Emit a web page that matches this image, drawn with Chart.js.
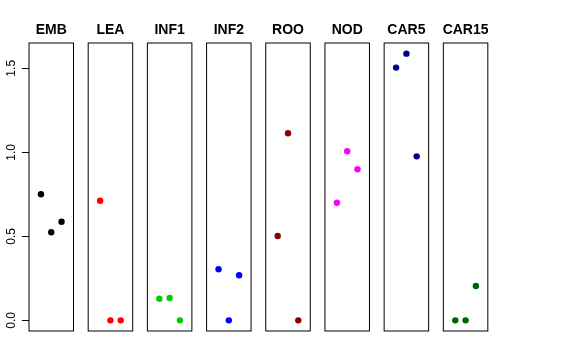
<!DOCTYPE html>
<html>
<head>
<meta charset="utf-8">
<script src="https://cdn.jsdelivr.net/npm/chart.js@4/dist/chart.umd.min.js"></script>
<style>
  body { margin: 0; background: #fff; }
  #wrap { position: relative; width: 576px; height: 360px; }
  #wrap canvas { position: absolute; left: 0; top: 0; }
</style>
</head>
<body>
<div id="wrap"></div>
<script>
// panel names and colours
const groups = ['EMB', 'LEA', 'INF1', 'INF2', 'ROO', 'NOD', 'CAR5', 'CAR15'];
const colors = ['#000000', '#FF0000', '#00CD00', '#0000FF', '#8B0000', '#FF00FF', '#00008B', '#006400'];

// three replicates per panel, plotted at x = 1, 2, 3
const replicate = [1, 2, 3];
const EMB   = [0.750, 0.524, 0.587];
const LEA   = [0.712, 0.000, 0.000];
const INF1  = [0.129, 0.133, 0.000];
const INF2  = [0.304, 0.000, 0.268];
const ROO   = [0.502, 1.113, 0.000];
const NOD   = [0.700, 1.006, 0.899];
const CAR5  = [1.504, 1.587, 0.976];
const CAR15 = [0.000, 0.000, 0.204];
const values = [EMB, LEA, INF1, INF2, ROO, NOD, CAR5, CAR15];

const yTicks = [0, 0.5, 1.0, 1.5];
const yMin = -0.0635, yMax = 1.6505;
const xMin = -0.16, xMax = 4.16;

const W = 576, H = 360;
const panelLeft = 29, panelStep = 59.19, panelWidth = 44.5;
const panelTop = 43, panelBottom = 331;

// box round the plot area, panel title and rotated y labels (R style)
const panelBox = {
    id: 'panelBox',
    afterDatasetsDraw(chart, args, opts) {
        const {ctx, chartArea: a} = chart;
        ctx.save();
        ctx.strokeStyle = '#000';
        ctx.lineWidth = 1;
        ctx.strokeRect(a.left, a.top, a.right - a.left, a.bottom - a.top);

        ctx.fillStyle = '#000';
        ctx.font = 'bold 14px "Liberation Sans", Arial, sans-serif';
        ctx.textAlign = 'center';
        ctx.textBaseline = 'alphabetic';
        ctx.fillText(opts.title, (a.left + a.right) / 2, 34);
        ctx.restore();

        if (opts.yLabels) {
            const y = chart.scales.y;
            ctx.save();
            ctx.fillStyle = '#000';
            ctx.font = '12px "Liberation Sans", Arial, sans-serif';
            ctx.textAlign = 'center';
            ctx.textBaseline = 'middle';
            y.ticks.forEach(t => {
                const py = y.getPixelForValue(t.value);
                ctx.save();
                ctx.translate(11.7, py);
                ctx.rotate(-Math.PI / 2);
                ctx.fillText(t.value.toFixed(1), 0, 0);
                ctx.restore();
            });
            ctx.restore();
        }
    }
};

const wrap = document.getElementById('wrap');

groups.forEach((name, i) => {
    const canvas = document.createElement('canvas');
    canvas.width = W;
    canvas.height = H;
    canvas.style.width = W + 'px';
    canvas.style.height = H + 'px';
    wrap.appendChild(canvas);

    const left = panelLeft + i * panelStep;
    const first = i === 0;

    const yScale = {
        type: 'linear',
        min: yMin,
        max: yMax,
        display: first,
        afterBuildTicks: s => { s.ticks = yTicks.map(v => ({ value: v })); },
        border: { display: false },
        grid: {
            drawOnChartArea: false,
            drawTicks: true,
            tickLength: 7,
            color: '#000',
            tickColor: '#000'
        },
        ticks: { display: false }
    };
    if (first) yScale.afterFit = s => { s.width = left; };

    new Chart(canvas, {
        type: 'scatter',
        data: {
            datasets: [{
                data: replicate.map((x, k) => ({ x: x, y: values[i][k] })),
                backgroundColor: colors[i],
                borderWidth: 0,
                pointRadius: 3.2,
                pointHoverRadius: 3.2
            }]
        },
        options: {
            responsive: false,
            animation: false,
            events: [],
            layout: {
                padding: {
                    left: first ? 0 : left,
                    right: W - left - panelWidth,
                    top: panelTop,
                    bottom: H - panelBottom
                }
            },
            scales: {
                x: {
                    type: 'linear',
                    min: xMin,
                    max: xMax,
                    display: false
                },
                y: yScale
            },
            plugins: {
                legend: { display: false },
                tooltip: { enabled: false },
                title: { display: false },
                panelBox: { yLabels: first, title: name }
            }
        },
        plugins: [panelBox]
    });
});
</script>
</body>
</html>
